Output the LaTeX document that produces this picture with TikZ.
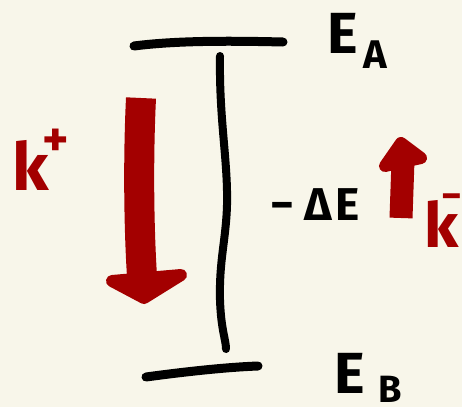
\documentclass[tikz,border=0pt]{standalone}
\usepackage{fontspec}
\setmainfont{Fira Sans}
\definecolor{bgcol}{HTML}{F8F6EA}
\definecolor{redink}{HTML}{A30000}
\tikzset{
  ink/.style={line width=9pt, line cap=round, line join=round, black},
  redstroke/.style={redink, line cap=round, line join=round},
  lab/.style={inner sep=0pt, anchor=base west, font=\bfseries},
}
\begin{document}
\begin{tikzpicture}[x=1pt,y=-1pt]
\fill[bgcol] (0,0) rectangle (462,407);
\useasboundingbox (0,0) rectangle (462,407);
% energy levels
\draw[ink] (134,46) .. controls (180,40) and (240,41) .. (283,42);
\draw[ink] (146,377) .. controls (190,371) and (230,367) .. (258,366);
% vertical bar
\draw[ink, line width=8pt] (220,56) .. controls (219,120) and (228,160) .. (227,205)
  .. controls (226,240) and (219,260) .. (220,300) .. controls (221,330) and (226,340) .. (226,349);
% big red arrow k+
\draw[redstroke, line width=30pt, line cap=butt] (141,98) .. controls (138,160) and (139,230) .. (142,276);
\filldraw[redstroke, line width=12pt] (112,281) -- (181,275) -- (144,298) -- cycle;
% small red arrow k-
\draw[redstroke, line width=23pt, line cap=butt] (401,218) -- (403,160);
\filldraw[redstroke, line width=12pt] (385,166) -- (421,158) -- (401,143) -- cycle;
% labels
\node[lab, font=\bfseries\fontsize{58}{60}\selectfont] (EA) at (327,53) {E};
\node[lab, font=\bfseries\fontsize{40}{44}\selectfont] (EAsub) at (363,68) {A};
\node[lab, font=\bfseries\fontsize{58}{60}\selectfont] (EB) at (334,393) {E};
\node[lab, font=\bfseries\fontsize{38}{42}\selectfont] (EBsub) at (378,402) {B};
\node[lab, font=\bfseries\fontsize{46}{48}\selectfont] (dE) at (270,220) {−\hspace{10pt}Δ\hspace{4pt}E};
\node[lab, redink, font=\bfseries\fontsize{66}{70}\selectfont] (kp) at (12,190) {k};
\node[lab, redink, font=\bfseries\fontsize{50}{54}\selectfont] (kpsup) at (42,156) {+};
\node[lab, redink, font=\bfseries\fontsize{62}{66}\selectfont] (km) at (424,247) {k};
\node[lab, redink, font=\bfseries\fontsize{40}{44}\selectfont] (kmsup) at (441,209) {−};
\end{tikzpicture}
\end{document}
